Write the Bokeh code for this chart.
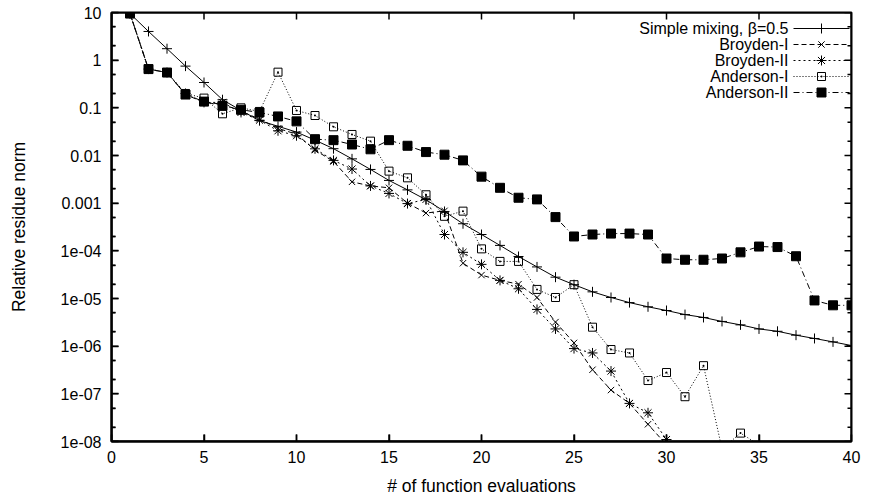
from bokeh.plotting import figure
from bokeh.models import FixedTicker, Range1d, LinearScale, Label
from bokeh.embed import file_html
from bokeh.resources import INLINE

# ---------------- data ----------------
simple_x = list(range(1, 41))
simple_y = [9.5, 4.0, 1.74, 0.75, 0.34, 0.148, 0.088, 0.054, 0.041, 0.031,
            0.021, 0.0139, 0.0085, 0.0051, 0.0030, 0.0019, 0.00118, 6.7e-4, 3.7e-4, 2.2e-4,
            1.3e-4, 7.6e-5, 4.6e-5, 2.8e-5, 1.95e-5, 1.38e-5, 1.05e-5, 8.2e-6, 6.7e-6, 5.6e-6,
            4.6e-6, 4.0e-6, 3.3e-6, 2.8e-6, 2.3e-6, 2.05e-6, 1.7e-6, 1.45e-6, 1.23e-6, 1.03e-6]

broyden1_x = list(range(1, 31))
broyden1_y = [9.5, 0.65, 0.55, 0.19, 0.13, 0.12, 0.085, 0.058, 0.037, 0.028,
              0.013, 0.0075, 0.0028, 0.0023, 0.0021, 0.001, 6.2e-4, 6.9e-4, 5.5e-5, 3.1e-5,
              2.4e-5, 2.0e-5, 1.05e-5, 3.2e-6, 1.17e-6, 3.2e-7, 1.2e-7, 6.3e-8, 2.3e-8, 8.5e-9]

broyden2_x = list(range(1, 31))
broyden2_y = [9.5, 0.65, 0.55, 0.2, 0.13, 0.13, 0.08, 0.055, 0.033, 0.026,
              0.0138, 0.0079, 0.0052, 0.0023, 0.0016, 9.8e-4, 0.0012, 2.2e-4, 9.3e-5, 5.2e-5,
              2.4e-5, 1.6e-5, 5.9e-6, 2.3e-6, 8.9e-7, 7.2e-7, 3.0e-7, 6.3e-8, 4.0e-8, 1.1e-8]

anderson1_x = list(range(1, 36))
anderson1_y = [9.5, 0.65, 0.55, 0.2, 0.16, 0.075, 0.1, 0.084, 0.56, 0.088,
               0.069, 0.040, 0.0276, 0.020, 0.0047, 0.0034, 0.0015, 5.3e-4, 6.8e-4, 1.1e-4,
               6.0e-5, 6.0e-5, 1.55e-5, 1.05e-5, 1.95e-5, 2.5e-6, 8.5e-7, 7.2e-7, 1.9e-7, 2.8e-7,
               8.7e-8, 3.9e-7, 7.0e-9, 1.5e-8, 8.5e-9]

anderson2_x = list(range(1, 41))
anderson2_y = [9.5, 0.65, 0.55, 0.19, 0.135, 0.11, 0.091, 0.08, 0.066, 0.052,
               0.022, 0.021, 0.017, 0.0135, 0.021, 0.016, 0.0118, 0.0104, 0.0079, 0.0036,
               0.0021, 0.0013, 0.0012, 5.1e-4, 2.0e-4, 2.2e-4, 2.3e-4, 2.3e-4, 2.2e-4, 6.9e-5,
               6.5e-5, 6.5e-5, 6.9e-5, 9.3e-5, 1.23e-4, 1.2e-4, 7.7e-5, 9.1e-6, 7.2e-6, 7.2e-6]

series_labels = ["Simple mixing, \u03b2=0.5", "Broyden-I", "Broyden-II", "Anderson-I", "Anderson-II"]

x_ticks = [0, 5, 10, 15, 20, 25, 30, 35, 40]
y_ticks = [1e-8, 1e-7, 1e-6, 1e-5, 1e-4, 1e-3, 1e-2, 1e-1, 1.0, 10.0]
y_tick_labels = ["1e-08", "1e-07", "1e-06", "1e-05", "1e-04", "0.001", "0.01", "0.1", "1", "10"]
y_minor = [m * t for t in y_ticks[:-1] for m in (2, 5)]

# ---------------- figure ----------------
FONT = "Liberation Sans"
FS = "16px"
FS_LABEL = "17.5px"
YMIN, YMAX = 1e-8, 10
FRAME_W, FRAME_H = 740, 429

p = figure(width=872, height=502, x_range=Range1d(0, 40), y_range=Range1d(YMIN, YMAX),
           y_axis_type="log", output_backend="svg", toolbar_location=None,
           min_border_left=111, min_border_right=21, min_border_top=12, min_border_bottom=61)
p.grid.grid_line_color = None
p.outline_line_color = "black"
p.outline_line_width = 2

xt = FixedTicker(ticks=x_ticks, minor_ticks=[])
yt = FixedTicker(ticks=y_ticks, minor_ticks=y_minor)
overrides = {t: s for t, s in zip(y_ticks, y_tick_labels)}

for ax in (p.xaxis[0], p.yaxis[0]):
    ax.axis_line_color = "black"
    ax.axis_line_width = 2
    ax.major_tick_line_color = "black"
    ax.major_tick_line_width = 1.5
    ax.minor_tick_line_color = "black"
    ax.minor_tick_line_width = 1.5
    ax.major_tick_in = 7
    ax.major_tick_out = 0
    ax.minor_tick_in = 4
    ax.minor_tick_out = 0
    ax.major_label_text_font = FONT
    ax.major_label_text_font_size = FS
    ax.major_label_text_color = "black"
    ax.axis_label_text_font = FONT
    ax.axis_label_text_font_size = FS_LABEL
    ax.axis_label_text_font_style = "normal"
    ax.axis_label_text_color = "black"

xa = p.xaxis[0]
xa.ticker = xt
xa.major_label_standoff = 9
xa.axis_label = "# of function evaluations"
xa.axis_label_standoff = 10

ya = p.yaxis[0]
ya.ticker = yt
ya.major_label_overrides = overrides
ya.major_label_standoff = 10
ya.axis_label = "Relative residue norm"
ya.axis_label_standoff = 29

# pixel-like helper ranges spanning the frame (for mirrored ticks and legend)
p.extra_x_ranges = {"px": Range1d(0, FRAME_W)}
p.extra_y_ranges = {"px": Range1d(0, FRAME_H)}
p.extra_x_scales = {"px": LinearScale()}
p.extra_y_scales = {"px": LinearScale()}

# ---------------- series ----------------
styles = [
    dict(dash="solid", marker="cross", size=10, fill=None),
    dict(dash="5 3", marker="x", size=9, fill=None),
    dict(dash="2 3", marker="asterisk", size=10, fill=None),
    dict(dash="1 2", marker="square_dot", size=8, fill=None),
    dict(dash="6 3 1 3", marker="square", size=9, fill="black"),
]
data = [(simple_x, simple_y), (broyden1_x, broyden1_y), (broyden2_x, broyden2_y),
        (anderson1_x, anderson1_y), (anderson2_x, anderson2_y)]

for (xs, ys), st in zip(data, styles):
    p.line(xs, ys, line_color="black", line_width=1, line_dash=st["dash"])
    px = [x for x, y in zip(xs, ys) if YMIN <= y <= YMAX]
    py = [y for x, y in zip(xs, ys) if YMIN <= y <= YMAX]
    p.scatter(px, py, marker=st["marker"], size=st["size"], line_color="black",
              line_width=1, fill_color=st["fill"])

# ---------------- legend (gnuplot style: text, then sample) ----------------
LEG_TEXT_RIGHT = 677
LEG_X0, LEG_X1, LEG_XM = 682, 738, 710
LEG_TOP, LEG_STEP = 413, 16

for i, (lab, st) in enumerate(zip(series_labels, styles)):
    ly = LEG_TOP - i * LEG_STEP
    p.add_layout(Label(x=LEG_TEXT_RIGHT, y=ly, text=lab, text_align="right",
                       text_baseline="middle", text_font=FONT, text_font_size=FS,
                       text_color="black", x_range_name="px", y_range_name="px"))
    p.line([LEG_X0, LEG_X1], [ly, ly], line_color="black", line_width=1, line_dash=st["dash"],
           x_range_name="px", y_range_name="px")
    p.scatter([LEG_XM], [ly], marker=st["marker"], size=st["size"], line_color="black",
              line_width=1, fill_color=st["fill"], x_range_name="px", y_range_name="px")

# ---------------- frame box and inward mirrored ticks (drawn last) ----------------
p.line([0, FRAME_W, FRAME_W, 0, 0], [0, 0, FRAME_H, FRAME_H, 0], line_color="black",
       line_width=2, line_dash="solid", x_range_name="px", y_range_name="px")

MAJ, MIN, TW = 7, 4, 1.5
nx = len(x_ticks)
p.segment(x0=x_ticks, x1=x_ticks, y0=[0] * nx, y1=[MAJ] * nx, y_range_name="px",
          line_color="black", line_width=TW, line_dash="solid")
p.segment(x0=x_ticks, x1=x_ticks, y0=[FRAME_H - MAJ] * nx, y1=[FRAME_H] * nx, y_range_name="px",
          line_color="black", line_width=TW, line_dash="solid")
ny, nm = len(y_ticks), len(y_minor)
p.segment(x0=[0] * ny, x1=[MAJ] * ny, y0=y_ticks, y1=y_ticks, x_range_name="px",
          line_color="black", line_width=TW, line_dash="solid")
p.segment(x0=[FRAME_W - MAJ] * ny, x1=[FRAME_W] * ny, y0=y_ticks, y1=y_ticks, x_range_name="px",
          line_color="black", line_width=TW, line_dash="solid")
p.segment(x0=[0] * nm, x1=[MIN] * nm, y0=y_minor, y1=y_minor, x_range_name="px",
          line_color="black", line_width=TW, line_dash="solid")
p.segment(x0=[FRAME_W - MIN] * nm, x1=[FRAME_W] * nm, y0=y_minor, y1=y_minor, x_range_name="px",
          line_color="black", line_width=TW, line_dash="solid")

open("out.html", "w").write(file_html(p, INLINE))
